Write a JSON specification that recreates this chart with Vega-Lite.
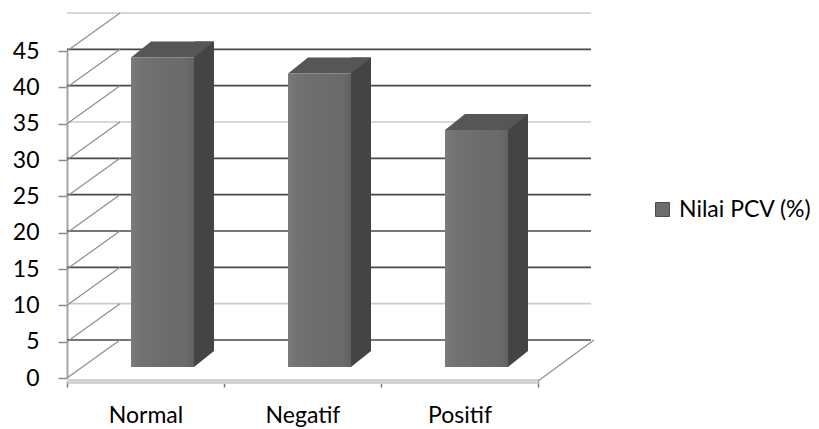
{
  "$schema": "https://vega.github.io/schema/vega-lite/v6.json",
  "width": 471,
  "height": 327,
  "autosize": {"type": "none"},
  "padding": {"left": 67, "top": 51, "right": 281, "bottom": 51},
  "background": "white",
  "config": {
    "font": "Lato",
    "view": {"stroke": null},
    "axisY": {"labelOverlap": false, "tickCount": 10}
  },
  "datasets": {
    "pcv": [
      {"kategori": "Normal", "nilai": 42.6},
      {"kategori": "Negatif", "nilai": 40.4},
      {"kategori": "Positif", "nilai": 32.6}
    ],
    "garis": [
      {"v": 0}, {"v": 5}, {"v": 10}, {"v": 15}, {"v": 20},
      {"v": 25}, {"v": 30}, {"v": 35}, {"v": 40}, {"v": 45}
    ]
  },
  "layer": [
    {
      "description": "back wall gridlines",
      "data": {"name": "garis"},
      "mark": {"type": "rule", "xOffset": 53, "x2Offset": 57, "yOffset": -38, "strokeWidth": 1.7},
      "encoding": {
        "y": {
          "field": "v", "type": "quantitative", "title": null,
          "scale": {"domain": [0, 45], "nice": false},
          "axis": {
            "title": null, "tickCount": 10, "grid": false, "labelOverlap": false,
            "labelFontSize": 23, "labelColor": "#000000", "labelPadding": 19,
            "domainColor": "#a5a5a5", "domainWidth": 2,
            "tickColor": "#8a8a8a", "tickSize": 9, "tickWidth": 1.5
          }
        },
        "color": {"condition": {"test": "datum.v == 45 || datum.v == 30 || datum.v == 5", "value": "#cbcbcb"}, "value": "#484848"}
      }
    },
    {
      "description": "side wall diagonals",
      "data": {"name": "garis"},
      "mark": {"type": "point", "shape": "M0,0L53,-38", "size": 4, "filled": false, "stroke": "#8e8e8e", "strokeWidth": 1.2, "opacity": 1},
      "encoding": {
        "x": {"datum": "Normal", "type": "nominal", "bandPosition": 0, "title": null, "scale": {"domain": ["Normal", "Negatif", "Positif"], "paddingInner": 0, "paddingOuter": 0}},
        "y": {"field": "v", "type": "quantitative", "title": null}
      }
    },
    {
      "description": "floor right edge",
      "data": {"name": "garis"},
      "transform": [{"filter": "datum.v == 0"}],
      "mark": {"type": "point", "shape": "M0,0L56,-41", "size": 4, "filled": false, "stroke": "#8e8e8e", "strokeWidth": 1.2, "opacity": 1, "yOffset": 3},
      "encoding": {
        "x": {"datum": "Positif", "type": "nominal", "bandPosition": 1, "title": null},
        "y": {"field": "v", "type": "quantitative", "title": null}
      }
    },
    {
      "description": "bar back block (side face)",
      "data": {"name": "pcv"},
      "mark": {"type": "bar", "size": 20, "xOffset": 58.5, "yOffset": -27, "y2Offset": -27, "color": "#444444"},
      "encoding": {
        "x": {"field": "kategori", "type": "nominal", "title": null},
        "y": {"field": "nilai", "type": "quantitative", "title": null}
      }
    },
    {
      "description": "lower corner of side face",
      "data": {"name": "pcv"},
      "mark": {"type": "point", "shape": "M0,0L0,-16L20,-16Z", "size": 4, "filled": true, "color": "#444444", "opacity": 1, "xOffset": 48.5, "yOffset": -11},
      "encoding": {
        "x": {"field": "kategori", "type": "nominal", "title": null},
        "y": {"datum": 0, "type": "quantitative", "title": null}
      }
    },
    {
      "description": "top face",
      "data": {"name": "pcv"},
      "mark": {"type": "point", "shape": "M0,0L20,-16L83,-16L63,0Z", "size": 4, "filled": true, "color": "#565656", "opacity": 1, "xOffset": -14.5, "yOffset": -11},
      "encoding": {
        "x": {"field": "kategori", "type": "nominal", "title": null},
        "y": {"field": "nilai", "type": "quantitative", "title": null}
      }
    },
    {
      "description": "front face",
      "data": {"name": "pcv"},
      "mark": {"type": "bar", "size": 63, "xOffset": 17, "yOffset": -11, "y2Offset": -11},
      "encoding": {
        "x": {
          "field": "kategori", "type": "nominal", "title": null,
          "axis": {
            "title": null, "labelAngle": 0, "labelAlign": "center", "labelOverlap": false,
            "labelFontSize": 23, "labelColor": "#000000", "labelPadding": 28,
            "domainColor": "#d2d2d2", "domainWidth": 5, "offset": 3,
            "tickBand": "extent", "tickColor": "#777777", "tickSize": 6, "tickWidth": 1.5
          }
        },
        "y": {
          "field": "nilai", "type": "quantitative", "title": null,
          "axis": {
            "title": null, "tickCount": 10, "grid": false, "labelOverlap": false,
            "labelFontSize": 23, "labelColor": "#000000", "labelPadding": 19,
            "domainColor": "#a5a5a5", "domainWidth": 2,
            "tickColor": "#8a8a8a", "tickSize": 9, "tickWidth": 1.5
          }
        },
        "color": {
          "datum": "Nilai PCV (%)", "type": "nominal",
          "scale": {"range": ["#6d6d6d"]},
          "legend": {
            "orient": "none", "legendX": 584, "legendY": 147, "title": null,
            "symbolType": "square", "symbolSize": 196, "symbolStrokeColor": "#4d4d4d", "symbolStrokeWidth": 1, "symbolOpacity": 1,
            "labelFontSize": 23, "labelColor": "#000000", "labelOffset": 5
          }
        }
      }
    },
    {
      "description": "front face shading",
      "data": {"name": "pcv"},
      "mark": {
        "type": "bar", "size": 63, "xOffset": 17, "yOffset": -11, "y2Offset": -11,
        "color": {
          "gradient": "linear", "x1": 0, "x2": 1, "y1": 0, "y2": 0,
          "stops": [
            {"offset": 0, "color": "rgba(255,255,255,0.10)"},
            {"offset": 0.12, "color": "rgba(255,255,255,0.04)"},
            {"offset": 0.85, "color": "rgba(0,0,0,0.02)"},
            {"offset": 1, "color": "rgba(0,0,0,0.10)"}
          ]
        }
      },
      "encoding": {
        "x": {"field": "kategori", "type": "nominal", "title": null},
        "y": {"field": "nilai", "type": "quantitative", "title": null}
      }
    }
  ]
}
